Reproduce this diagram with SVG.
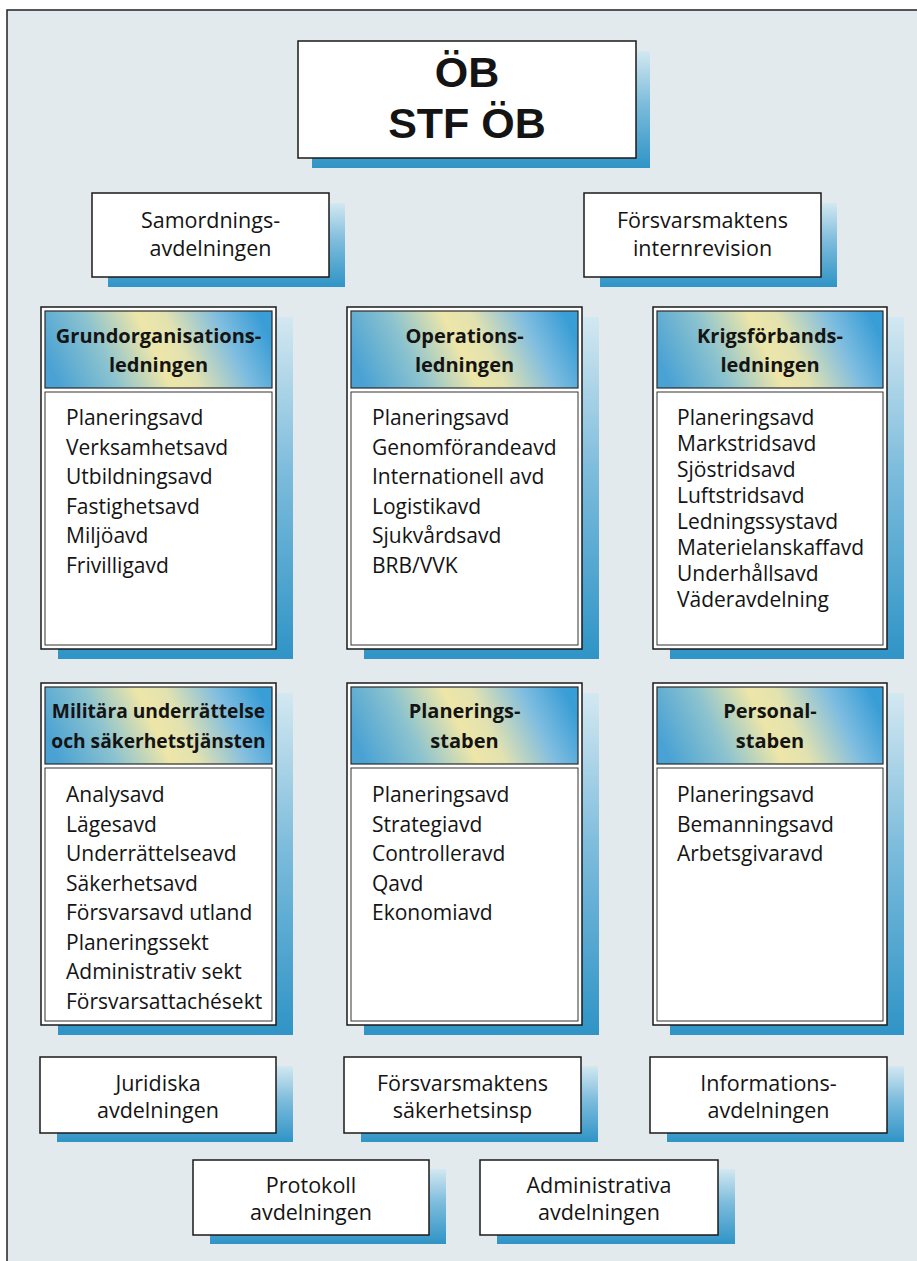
<svg xmlns="http://www.w3.org/2000/svg" width="917" height="1261" viewBox="0 0 917 1261">
<defs>
<linearGradient id="hdr" x1="0" y1="0.58" x2="1" y2="0.42">
<stop offset="0" stop-color="#4aa2d4"/>
<stop offset="0.25" stop-color="#8cc3cf"/>
<stop offset="0.48" stop-color="#eee6a8"/>
<stop offset="0.6" stop-color="#e2e2b0"/>
<stop offset="0.82" stop-color="#7fbde0"/>
<stop offset="1" stop-color="#3a9ed6"/>
</linearGradient>
<linearGradient id="shd" x1="0" y1="0" x2="0" y2="1">
<stop offset="0" stop-color="#d3e8f1"/>
<stop offset="0.45" stop-color="#7dbcdc"/>
<stop offset="1" stop-color="#2f94c6"/>
</linearGradient>
<style>
.bg{fill:#e2eaed}
.frame{stroke:#222;stroke-width:1.5;fill:none}
.shadow{fill:url(#shd)}
.box{fill:#fff;stroke:#1a1a1a;stroke-width:1.5}
.inner{fill:#fff;stroke:#333;stroke-width:1}
.hdr{fill:url(#hdr);stroke:#2a2a2a;stroke-width:1.2}
text{font-family:"Open Sans","Liberation Sans",sans-serif;fill:#141414}
.t{font-size:21.5px;text-anchor:middle}
.h{font-size:20px;font-weight:bold;text-anchor:middle}
.hs{font-size:19.2px}
.l{font-size:21px}
.big{font-family:"Liberation Sans",Arial,sans-serif;font-size:43px;font-weight:bold;text-anchor:middle}
</style>
</defs>
<rect class="bg" x="7" y="10" width="910" height="1251"/>
<path class="frame" d="M7 1261 V10 H917"/>
<g id="connectors"/>

<g id="ob">
<rect class="shadow" x="312" y="51" width="338" height="117"/>
<rect class="box" x="298" y="41" width="338" height="117"/>
<text class="big" x="467" y="87">ÖB</text>
<text class="big" x="467" y="138">STF ÖB</text>
</g>

<g id="samordning">
<rect class="shadow" x="108" y="203" width="237" height="84"/>
<rect class="box" x="92" y="193" width="237" height="84"/>
<text class="t" x="210.5" y="228">Samordnings-</text>
<text class="t" x="210.5" y="256">avdelningen</text>
</g>

<g id="internrevision">
<rect class="shadow" x="600" y="203" width="237" height="84"/>
<rect class="box" x="584" y="193" width="237" height="84"/>
<text class="t" x="702.5" y="228">Försvarsmaktens</text>
<text class="t" x="702.5" y="256">internrevision</text>
</g>

<g id="grundorganisation">
<rect class="shadow" x="58" y="317" width="235" height="342"/>
<rect class="box" x="41" y="307" width="235" height="342"/>
<rect class="hdr" x="45" y="311" width="227" height="77"/>
<rect class="inner" x="45" y="392" width="227" height="253"/>
<text class="h" x="158.5" y="343">Grundorganisations-</text>
<text class="h" x="158.5" y="372">ledningen</text>
<text class="l" x="66" y="425">Planeringsavd</text>
<text class="l" x="66" y="454.5">Verksamhetsavd</text>
<text class="l" x="66" y="484">Utbildningsavd</text>
<text class="l" x="66" y="513.5">Fastighetsavd</text>
<text class="l" x="66" y="543">Miljöavd</text>
<text class="l" x="66" y="572.5">Frivilligavd</text>
</g>

<g id="operations">
<rect class="shadow" x="364" y="317" width="235" height="342"/>
<rect class="box" x="347" y="307" width="235" height="342"/>
<rect class="hdr" x="351" y="311" width="227" height="77"/>
<rect class="inner" x="351" y="392" width="227" height="253"/>
<text class="h" x="464.5" y="343">Operations-</text>
<text class="h" x="464.5" y="372">ledningen</text>
<text class="l" x="372" y="425">Planeringsavd</text>
<text class="l" x="372" y="454.5">Genomförandeavd</text>
<text class="l" x="372" y="484">Internationell avd</text>
<text class="l" x="372" y="513.5">Logistikavd</text>
<text class="l" x="372" y="543">Sjukvårdsavd</text>
<text class="l" x="372" y="572.5">BRB/VVK</text>
</g>

<g id="krigsforband">
<rect class="shadow" x="670" y="317" width="234" height="342"/>
<rect class="box" x="653" y="307" width="234" height="342"/>
<rect class="hdr" x="657" y="311" width="226" height="77"/>
<rect class="inner" x="657" y="392" width="226" height="253"/>
<text class="h" x="770" y="343">Krigsförbands-</text>
<text class="h" x="770" y="372">ledningen</text>
<text class="l" x="677" y="425">Planeringsavd</text>
<text class="l" x="677" y="451">Markstridsavd</text>
<text class="l" x="677" y="477">Sjöstridsavd</text>
<text class="l" x="677" y="503">Luftstridsavd</text>
<text class="l" x="677" y="529">Ledningssystavd</text>
<text class="l" x="677" y="555">Materielanskaffavd</text>
<text class="l" x="677" y="581">Underhållsavd</text>
<text class="l" x="677" y="607">Väderavdelning</text>
</g>

<g id="must">
<rect class="shadow" x="58" y="693" width="235" height="342"/>
<rect class="box" x="41" y="683" width="235" height="342"/>
<rect class="hdr" x="45" y="687" width="227" height="77"/>
<rect class="inner" x="45" y="768" width="227" height="253"/>
<text class="h hs" x="158.5" y="718">Militära underrättelse</text>
<text class="h hs" x="158.5" y="748">och säkerhetstjänsten</text>
<text class="l" x="66" y="802">Analysavd</text>
<text class="l" x="66" y="831.5">Lägesavd</text>
<text class="l" x="66" y="861">Underrättelseavd</text>
<text class="l" x="66" y="890.5">Säkerhetsavd</text>
<text class="l" x="66" y="920">Försvarsavd utland</text>
<text class="l" x="66" y="949.5">Planeringssekt</text>
<text class="l" x="66" y="979">Administrativ sekt</text>
<text class="l" x="66" y="1008.5">Försvarsattachésekt</text>
</g>

<g id="planeringsstaben">
<rect class="shadow" x="364" y="693" width="235" height="342"/>
<rect class="box" x="347" y="683" width="235" height="342"/>
<rect class="hdr" x="351" y="687" width="227" height="77"/>
<rect class="inner" x="351" y="768" width="227" height="253"/>
<text class="h" x="464.5" y="718">Planerings-</text>
<text class="h" x="464.5" y="748">staben</text>
<text class="l" x="372" y="802">Planeringsavd</text>
<text class="l" x="372" y="831.5">Strategiavd</text>
<text class="l" x="372" y="861">Controlleravd</text>
<text class="l" x="372" y="890.5">Qavd</text>
<text class="l" x="372" y="920">Ekonomiavd</text>
</g>

<g id="personalstaben">
<rect class="shadow" x="670" y="693" width="234" height="342"/>
<rect class="box" x="653" y="683" width="234" height="342"/>
<rect class="hdr" x="657" y="687" width="226" height="77"/>
<rect class="inner" x="657" y="768" width="226" height="253"/>
<text class="h" x="770" y="718">Personal-</text>
<text class="h" x="770" y="748">staben</text>
<text class="l" x="677" y="802">Planeringsavd</text>
<text class="l" x="677" y="831.5">Bemanningsavd</text>
<text class="l" x="677" y="861">Arbetsgivaravd</text>
</g>

<g id="juridiska">
<rect class="shadow" x="57" y="1066" width="236" height="76"/>
<rect class="box" x="40" y="1057" width="236" height="76"/>
<text class="t" x="158" y="1091">Juridiska</text>
<text class="t" x="158" y="1118">avdelningen</text>
</g>

<g id="sakerhetsinsp">
<rect class="shadow" x="361" y="1066" width="237" height="76"/>
<rect class="box" x="344" y="1057" width="237" height="76"/>
<text class="t" x="462.5" y="1091">Försvarsmaktens</text>
<text class="t" x="462.5" y="1118">säkerhetsinsp</text>
</g>

<g id="information">
<rect class="shadow" x="667" y="1066" width="237" height="76"/>
<rect class="box" x="650" y="1057" width="237" height="76"/>
<text class="t" x="768.5" y="1091">Informations-</text>
<text class="t" x="768.5" y="1118">avdelningen</text>
</g>

<g id="protokoll">
<rect class="shadow" x="210" y="1169" width="236" height="75"/>
<rect class="box" x="193" y="1160" width="236" height="75"/>
<text class="t" x="311" y="1193">Protokoll</text>
<text class="t" x="311" y="1220">avdelningen</text>
</g>

<g id="administrativa">
<rect class="shadow" x="497" y="1169" width="238" height="75"/>
<rect class="box" x="480" y="1160" width="238" height="75"/>
<text class="t" x="599" y="1193">Administrativa</text>
<text class="t" x="599" y="1220">avdelningen</text>
</g>
</svg>
